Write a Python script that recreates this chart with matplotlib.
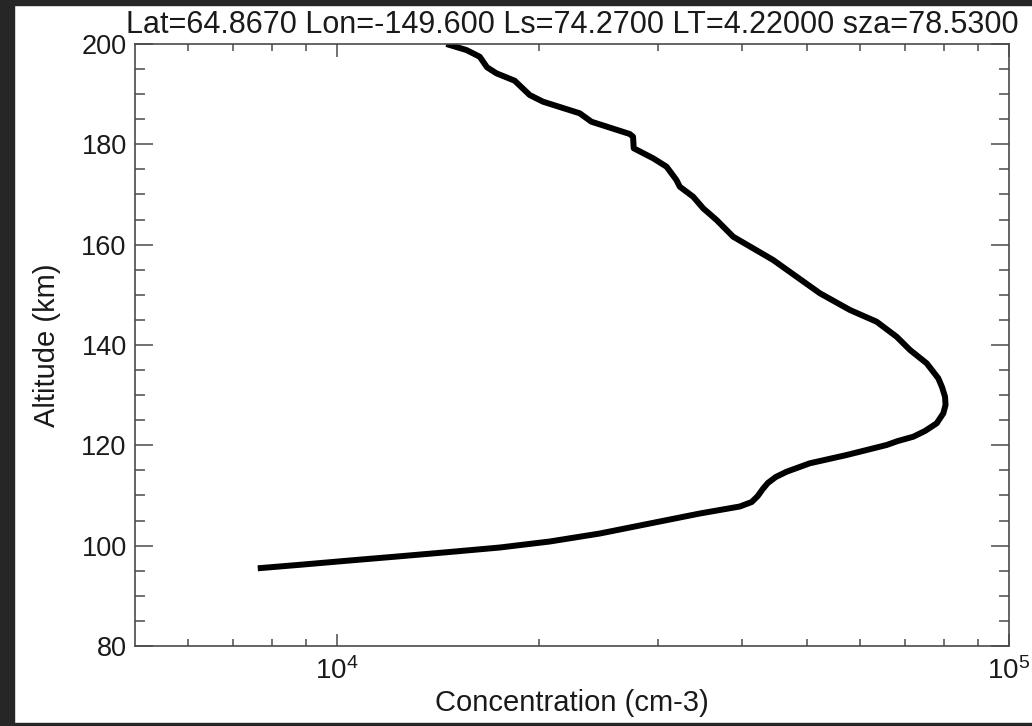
import matplotlib
matplotlib.use("Agg")
import matplotlib.pyplot as plt
from matplotlib.patches import Rectangle
from matplotlib.ticker import FixedLocator, NullFormatter

plt.rcParams['font.family'] = ['Liberation Sans', 'DejaVu Sans']
plt.rcParams['mathtext.fontset'] = 'custom'
plt.rcParams['mathtext.rm'] = 'Liberation Sans'

# ---- data ----
concentration = [14536, 15569, 16296, 16709, 17257, 18372, 19342, 20245, 22958, 23898,
                 27254, 27564, 27630, 29530, 30920, 31985, 32350, 33870, 35052, 36700,
                 38850, 41590, 44560, 48290, 52300, 57970, 63530, 68030, 71230, 75420,
                 78480, 79480, 80310, 80450, 79840, 78050, 74980, 72040, 68320, 65750,
                 57320, 50520, 46660, 44960, 43750, 43000, 42270, 41400, 39750, 34650,
                 29200, 24590, 20720, 17450, 14700, 12383, 10431, 8787, 7616]
altitude = [200.0, 198.8, 197.47, 195.36, 194.16, 192.68, 189.83, 188.5, 186.19, 184.51,
            182.06, 181.52, 179.21, 177.22, 175.54, 172.89, 171.56, 169.56, 167.25, 164.92,
            161.59, 159.28, 156.94, 153.61, 150.31, 146.98, 144.64, 141.65, 139.0, 136.35,
            133.36, 131.63, 129.69, 128.04, 126.38, 124.39, 122.86, 121.72, 120.86, 120.07,
            118.07, 116.42, 114.74, 113.69, 112.49, 111.29, 109.9, 108.7, 107.81, 106.41,
            104.42, 102.42, 100.83, 99.63, 98.74, 97.88, 97.04, 96.18, 95.49]

y_ticks = [80, 100, 120, 140, 160, 180, 200]
y_minor = [85, 90, 95, 105, 110, 115, 125, 130, 135, 145, 150, 155, 165, 170, 175, 185, 190, 195]
x_ticks = [1e4, 1e5]
x_tick_labels = [r'$\mathregular{10^{4}}$', r'$\mathregular{10^{5}}$']
x_minor = [6000, 7000, 8000, 9000, 20000, 30000, 40000, 50000, 60000, 70000, 80000, 90000]

title = "Lat=64.8670 Lon=-149.600 Ls=74.2700 LT=4.22000 sza=78.5300"
xlabel = "Concentration (cm-3)"
ylabel = "Altitude (km)"

# ---- figure ----
W, H = 1032, 726
fig = plt.figure(figsize=(W / 100, H / 100), dpi=100, facecolor='white')
dark = '#262626'
fig.patches.append(Rectangle((0, 0), 14 / W, 1, transform=fig.transFigure, color=dark, zorder=-1))
fig.patches.append(Rectangle((0, 1 - 5 / H), 1, 5 / H, transform=fig.transFigure, color=dark, zorder=-1))
fig.patches.append(Rectangle((0, 0), 1, 3 / H, transform=fig.transFigure, color=dark, zorder=-1))

ax = fig.add_axes([135 / W, 1 - 646 / H, (1009 - 135) / W, (646 - 44) / H])
ax.set_facecolor('white')
ax.plot(concentration, altitude, color='black', linewidth=4.3, solid_capstyle='butt',
        solid_joinstyle='round', clip_on=True)

ax.set_xscale('log')
ax.set_xlim(5000, 1e5)
ax.set_ylim(80, 200)

spine_col = '#4a4a4a'
for s in ax.spines.values():
    s.set_color(spine_col)
    s.set_linewidth(1.2)

ax.set_yticks(y_ticks)
ax.yaxis.set_minor_locator(FixedLocator(y_minor))
ax.set_xticks(x_ticks)
ax.set_xticklabels(x_tick_labels)
ax.xaxis.set_minor_locator(FixedLocator(x_minor))
ax.xaxis.set_minor_formatter(NullFormatter())

ax.tick_params(axis='both', which='both', direction='in', color=spine_col, width=1.1,
               top=True, right=True, labelcolor='#1a1a1a')
ax.tick_params(axis='y', which='major', length=13, labelsize=19.5, pad=6)
ax.tick_params(axis='y', which='minor', length=7.5)
ax.tick_params(axis='x', which='major', length=9, labelsize=20, pad=8)
ax.tick_params(axis='x', which='minor', length=5)

ax.set_title(title, fontsize=22, pad=8, color='#1a1a1a')
ax.set_xlabel(xlabel, fontsize=21, color='#1a1a1a')
ax.set_ylabel(ylabel, fontsize=21, color='#1a1a1a')
ax.xaxis.set_label_coords(0.5, -0.0714)
ax.yaxis.set_label_coords(-0.085, 0.5)

fig.savefig('out.png', dpi=100, facecolor=fig.get_facecolor())
